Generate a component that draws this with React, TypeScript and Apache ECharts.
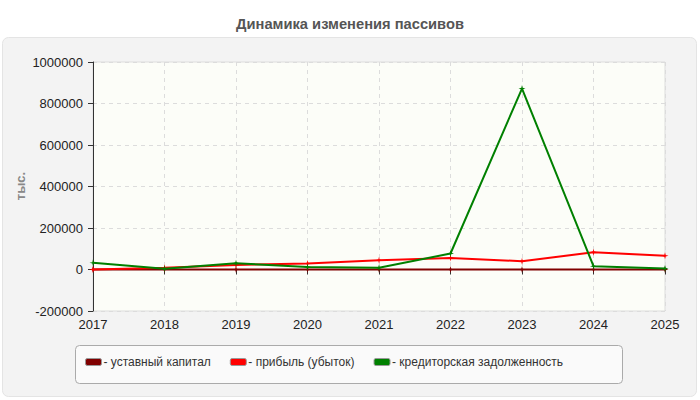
import React, { useEffect, useRef } from "react";
import * as echarts from "echarts";

const years = ["2017", "2018", "2019", "2020", "2021", "2022", "2023", "2024", "2025"];
const ustavKapital = [100, 100, 100, 100, 100, 100, 100, 100, 100];
const pribyl = [0, 8000, 22000, 29000, 45000, 56000, 40000, 83000, 66000];
const kreditor = [32000, 4000, 30000, 12000, 8000, 77000, 872000, 16000, 5000];
const seriesNames = ["- уставный капитал", "- прибыль (убыток)", "- кредиторская задолженность"];
const seriesColors = ["#800000", "#ff0000", "#008000"];
const yAxisName = "тыс.";

const FONT = "'Liberation Sans', Arial, sans-serif";
const STAR = "path://M5,0 L6,4 L10,5 L6,6 L5,10 L4,6 L0,5 L4,4 Z";

export default function App() {
  const ref = useRef<HTMLDivElement>(null);
  useEffect(() => {
    if (!ref.current) return;
    const chart = echarts.init(ref.current, null, { renderer: "svg" });
    const datasets = [ustavKapital, pribyl, kreditor];
    chart.setOption({
      animation: false,
      backgroundColor: "#ffffff",
      textStyle: { fontFamily: FONT },
      title: {
        text: "Динамика изменения пассивов",
        left: "center",
        top: 11,
        textStyle: { fontSize: 14.7, fontWeight: "bold", color: "#555", fontFamily: FONT },
      },
      graphic: [
        {
          type: "rect",
          z: -10,
          silent: true,
          shape: { x: 2.5, y: 37.5, width: 694, height: 359, r: 6 },
          style: { fill: "#f3f3f3", stroke: "#e4e4e4", lineWidth: 1 },
        },
        {
          type: "rect",
          z: -5,
          silent: true,
          shape: { x: 75.5, y: 345.5, width: 547, height: 38, r: 4 },
          style: { fill: "#fafafa", stroke: "#aaaaaa", lineWidth: 1 },
        },
        {
          type: "text",
          silent: true,
          x: 20,
          y: 186,
          rotation: Math.PI / 2,
          style: {
            text: yAxisName,
            fill: "#888",
            font: "bold 13px " + FONT,
            align: "center",
            verticalAlign: "middle",
          },
        },
      ],
      legend: {
        left: 80,
        top: 351,
        itemWidth: 16,
        itemHeight: 7,
        itemGap: 19,
        icon: "roundRect",
        textStyle: { fontSize: 12, color: "#333", fontFamily: FONT, padding: [0, 0, 0, -3] },
        data: seriesNames.map((n, i) => ({
          name: n,
          itemStyle: { color: seriesColors[i], borderColor: "#999", borderWidth: 1 },
        })),
      },
      grid: {
        left: 93,
        right: 35,
        top: 62,
        bottom: 89,
        show: true,
        backgroundColor: "#fcfdf8",
        borderColor: "#dddddd",
        borderWidth: 1,
      },
      xAxis: {
        type: "category",
        data: years,
        boundaryGap: false,
        axisLine: { lineStyle: { color: "#333", width: 1 } },
        axisTick: { show: true, length: 5, lineStyle: { color: "#333" } },
        axisLabel: { fontSize: 13, color: "#222", margin: 7, fontFamily: FONT },
        splitLine: { show: true, lineStyle: { color: "#dcdcdc", type: [4, 4] } },
      },
      yAxis: {
        type: "value",
        min: -200000,
        max: 1000000,
        interval: 200000,
        axisLine: { show: true, lineStyle: { color: "#333", width: 1 } },
        axisTick: { show: true, length: 5, lineStyle: { color: "#333" } },
        axisLabel: {
          fontSize: 13,
          color: "#222",
          margin: 10,
          fontFamily: FONT,
          formatter: (v: number) => String(v),
        },
        splitLine: { show: true, lineStyle: { color: "#dcdcdc", type: [4, 4] } },
      },
      series: datasets.map((d, i) => ({
        name: seriesNames[i],
        type: "line",
        data: d,
        color: seriesColors[i],
        lineStyle: { width: 2, color: seriesColors[i] },
        symbol: STAR,
        symbolSize: 7,
        showSymbol: true,
        itemStyle: { color: seriesColors[i] },
        z: 3 + i,
      })),
    });
    return () => chart.dispose();
  }, []);
  return (
    <div
      ref={ref}
      style={{ position: "fixed", left: 0, top: 0, width: 700, height: 400 }}
    />
  );
}
